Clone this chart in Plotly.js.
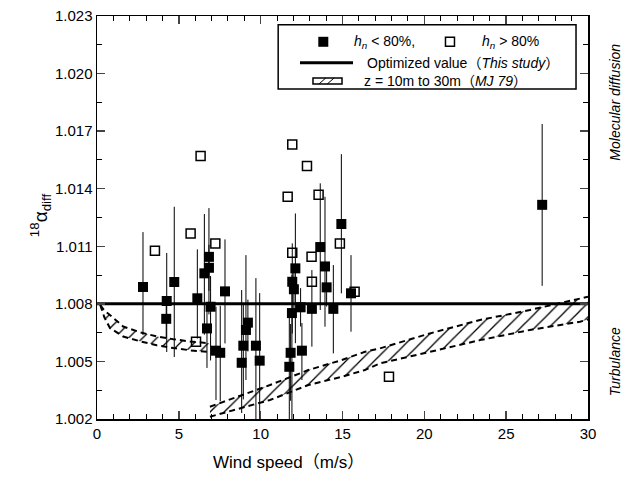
<!DOCTYPE html>
<html>
<head>
<meta charset="utf-8">
<script src="https://cdn.plot.ly/plotly-3.0.1.min.js"></script>
<style>html,body{margin:0;padding:0;background:#fff;}#chart{width:627px;height:478px;}</style>
</head>
<body>
<div id="chart"></div>
<script>
// Filled squares (h_n < 80%) with error bars
const lowX = [2.81, 4.26, 4.23, 4.72, 6.13, 6.56, 6.84, 6.84, 6.94, 6.72, 7.27, 7.53, 7.82, 8.84, 8.94, 9.10, 9.22, 9.71, 9.94,
              12.12, 11.93, 12.03, 12.44, 11.91, 11.83, 11.75, 12.52, 13.13, 13.64, 13.93, 14.03, 14.44, 14.93, 15.52, 27.2];
const lowY = [1.00888, 1.00815, 1.00722, 1.00914, 1.00829, 1.00959, 1.01045, 1.00988, 1.00785, 1.00672, 1.00556, 1.00545, 1.00865, 1.00493, 1.00582, 1.00664, 1.00702, 1.00582, 1.00504,
              1.00985, 1.00915, 1.00876, 1.00782, 1.00752, 1.00545, 1.00472, 1.00556, 1.00774, 1.01096, 1.00995, 1.00886, 1.00774, 1.01216, 1.00855, 1.01316];
const lowErrPlus = [0.00286, 0.0025, 0.001, 0.00392, 0.00255, 0.00309, 0.00254, 0.0012, 0.0016, 0.0011, 0.00229, 0.00245, 0.00271, 0.00379, 0.0022, 0.0039, 0.0012, 0.00352, 0.00352,
                    0.00286, 0.002, 0.001, 0.001, 0.002, 0.0015, 0.0028, 0.00144, 0.00202, 0.00332, 0.00363, 0.001, 0.00228, 0.00364, 0.00199, 0.00421];
const lowErrMinus = [0.0025, 0.00266, 0.001, 0.00391, 0.0021, 0.0032, 0.003, 0.0012, 0.0028, 0.00206, 0.00257, 0.00253, 0.00271, 0.00262, 0.0028, 0.00261, 0.0015, 0.00387, 0.00304,
                     0.0039, 0.0027, 0.001, 0.001, 0.0058, 0.0025, 0.0032, 0.00153, 0.00197, 0.00328, 0.00314, 0.001, 0.00232, 0.00361, 0.002, 0.00422];

// Open squares (h_n > 80%)
const highX = [3.54, 5.72, 6.05, 6.33, 7.23, 11.65, 11.93, 11.93, 12.83, 13.11, 13.13, 13.54, 14.84, 15.74, 17.84];
const highY = [1.01077, 1.01167, 1.00603, 1.01571, 1.01115, 1.01358, 1.01631, 1.01066, 1.01519, 1.01045, 1.00915, 1.01368, 1.01115, 1.00863, 1.0042];

// Optimized value (This study)
const optX = [0, 30];
const optY = [1.008, 1.008];

// MJ 79 band, z = 10m to 30m (two branches)
const bandLX = [0.20, 0.45, 0.79, 1.60, 2.63, 3.65, 4.66, 5.68, 6.85];
const bandLUpper = [1.00794, 1.00765, 1.00742, 1.00682, 1.00652, 1.0063, 1.00616, 1.00604, 1.00595];
const bandLLower = [1.00794, 1.0073, 1.00674, 1.0063, 1.00605, 1.00584, 1.0057, 1.00558, 1.00549];
const bandRX = [6.90, 10.57, 12.91, 14.95, 16.37, 17.29, 20.34, 23.40, 26.45, 29.51, 30.0];
const bandRUpper = [1.00264, 1.00377, 1.00455, 1.00507, 1.0055, 1.00568, 1.00646, 1.00716, 1.00768, 1.00829, 1.00837];
const bandRLower = [1.00212, 1.00299, 1.00377, 1.0042, 1.00455, 1.0049, 1.0055, 1.00611, 1.00664, 1.00707, 1.00719];

function polyX(x) { return x.concat(x.slice().reverse()); }
function polyY(u, l) { return u.concat(l.slice().reverse()); }

const hatch = {shape: '/', fgcolor: 'black', bgcolor: 'white', size: 10, solidity: 0.13};
const dashLine = {color: 'black', width: 2, dash: '6px,4px'};

const traces = [
  {x: polyX(bandLX), y: polyY(bandLUpper, bandLLower), type: 'scatter', mode: 'lines', fill: 'toself',
   fillcolor: 'white', fillpattern: hatch, line: {width: 0}, hoverinfo: 'skip'},
  {x: polyX(bandRX), y: polyY(bandRUpper, bandRLower), type: 'scatter', mode: 'lines', fill: 'toself',
   fillcolor: 'white', fillpattern: hatch, line: {width: 0}, hoverinfo: 'skip'},
  {x: bandLX, y: bandLUpper, type: 'scatter', mode: 'lines', line: dashLine},
  {x: bandLX, y: bandLLower, type: 'scatter', mode: 'lines', line: dashLine},
  {x: bandRX, y: bandRUpper, type: 'scatter', mode: 'lines', line: dashLine},
  {x: bandRX, y: bandRLower, type: 'scatter', mode: 'lines', line: dashLine},
  {x: optX, y: optY, type: 'scatter', mode: 'lines', line: {color: 'black', width: 3}},
  {x: lowX, y: lowY, type: 'scatter', mode: 'markers',
   marker: {symbol: 'square', size: 10, color: 'black'},
   error_y: {type: 'data', symmetric: false, array: lowErrPlus, arrayminus: lowErrMinus, color: 'black', thickness: 1, width: 0}},
  {x: highX, y: highY, type: 'scatter', mode: 'markers',
   marker: {symbol: 'square-open', size: 9, color: 'black', line: {width: 1.5, color: 'black'}}}
];

const fontMain = 'Liberation Sans, Arial, Noto Sans CJK JP, sans-serif';

// legend helpers (paper coords)
const shapes = [
  {type: 'rect', xref: 'paper', yref: 'paper', x0: 0.369, x1: 0.9756, y0: 0.819, y1: 0.978,
   line: {color: 'black', width: 1.5}, fillcolor: 'white', layer: 'above'},
  {type: 'rect', xref: 'paper', yref: 'paper', xsizemode: 'pixel', ysizemode: 'pixel', xanchor: 0.4609, yanchor: 0.936,
   x0: -5, x1: 5, y0: -5, y1: 5, fillcolor: 'black', line: {width: 0}, layer: 'above'},
  {type: 'rect', xref: 'paper', yref: 'paper', xsizemode: 'pixel', ysizemode: 'pixel', xanchor: 0.7189, yanchor: 0.936,
   x0: -4.5, x1: 4.5, y0: -4.5, y1: 4.5, fillcolor: 'white', line: {width: 1.5, color: 'black'}, layer: 'above'},
  {type: 'line', xref: 'paper', yref: 'paper', x0: 0.4134, x1: 0.5214, y0: 0.884, y1: 0.884,
   line: {color: 'black', width: 3}, layer: 'above'},
  {type: 'rect', xref: 'paper', yref: 'paper', x0: 0.4399, x1: 0.499, y0: 0.8313, y1: 0.8462,
   line: {color: 'black', width: 1.5}, fillcolor: 'white', layer: 'above'},
  {type: 'line', xref: 'paper', yref: 'paper', x0: 0.452, x1: 0.466, y0: 0.8313, y1: 0.8462, line: {color: 'black', width: 1}, layer: 'above'},
  {type: 'line', xref: 'paper', yref: 'paper', x0: 0.469, x1: 0.483, y0: 0.8313, y1: 0.8462, line: {color: 'black', width: 1}, layer: 'above'}
];

const annFont = {family: fontMain, size: 14, color: 'black'};
const annotations = [
  {xref: 'paper', yref: 'paper', x: 0.5187, y: 0.936, xanchor: 'left', yanchor: 'middle', showarrow: false, font: annFont,
   text: '<i>h</i><sub><i>n</i></sub> &lt; 80%,'},
  {xref: 'paper', yref: 'paper', x: 0.78, y: 0.936, xanchor: 'left', yanchor: 'middle', showarrow: false, font: annFont,
   text: '<i>h</i><sub><i>n</i></sub> &gt; 80%'},
  {xref: 'paper', yref: 'paper', x: 0.5458, y: 0.884, xanchor: 'left', yanchor: 'middle', showarrow: false, font: annFont,
   text: 'Optimized value（<i>This study</i>）'},
  {xref: 'paper', yref: 'paper', x: 0.5397, y: 0.839, xanchor: 'left', yanchor: 'middle', showarrow: false, font: annFont,
   text: 'z = 10m to 30m（<i>MJ 79</i>）'},
  {xref: 'paper', yref: 'paper', x: 1.055, y: 0.785, xanchor: 'center', yanchor: 'middle', showarrow: false, textangle: -90,
   font: annFont, text: '<i>Molecular diffusion</i>'},
  {xref: 'paper', yref: 'paper', x: 1.055, y: 0.141, xanchor: 'center', yanchor: 'middle', showarrow: false, textangle: -90,
   font: annFont, text: '<i>Turbulance</i>'},
  {xref: 'paper', yref: 'paper', x: -0.116, y: 0.506, xanchor: 'center', yanchor: 'middle', showarrow: false, textangle: -90,
   font: {family: fontMain, size: 19, color: 'black'}, text: '<sup>18</sup>α<sub>diff</sub>'},
  {xref: 'paper', yref: 'paper', x: 0.391, y: -0.107, xanchor: 'center', yanchor: 'middle', showarrow: false,
   font: {family: fontMain, size: 17, color: 'black'}, text: 'Wind speed（m/s）'}
];

const layout = {
  width: 627, height: 478,
  margin: {l: 97, r: 39, t: 16, b: 59},
  paper_bgcolor: 'white', plot_bgcolor: 'white',
  showlegend: false,
  font: {family: fontMain, size: 15, color: 'black'},
  xaxis: {range: [0, 30], tick0: 0, dtick: 5, ticks: 'inside', ticklen: 8, tickwidth: 1.5, mirror: 'ticks',
          showline: true, linecolor: 'black', linewidth: 1.5, showgrid: false, zeroline: false,
          minor: {dtick: 1, ticks: 'inside', ticklen: 5, tickwidth: 1, tickcolor: 'black', showgrid: false},
          tickfont: {family: fontMain, size: 15, color: 'black'}},
  yaxis: {range: [1.002, 1.023], tick0: 1.002, dtick: 0.003, tickformat: '.3f', ticks: 'inside', ticklen: 8, tickwidth: 1.5,
          mirror: 'ticks', showline: true, linecolor: 'black', linewidth: 1.5, showgrid: false, zeroline: false,
          minor: {dtick: 0.0015, ticks: 'inside', ticklen: 5, tickwidth: 1, tickcolor: 'black', showgrid: false},
          tickfont: {family: fontMain, size: 15, color: 'black'}},
  shapes: shapes,
  annotations: annotations
};

Plotly.newPlot('chart', traces, layout, {displayModeBar: false, staticPlot: true});
</script>
</body>
</html>
